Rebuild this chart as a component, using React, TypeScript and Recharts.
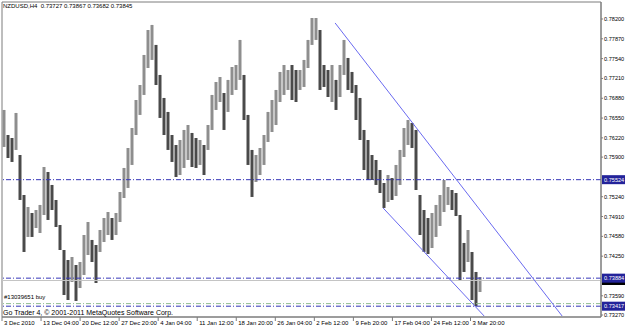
import React from "react";
import {
  Bar,
  Cell,
  ComposedChart,
  ReferenceArea,
  ReferenceLine,
  XAxis,
  YAxis,
} from "recharts";

const FONT = '"Liberation Sans", Arial, sans-serif';

const TITLE = "NZDUSD,H4  0.73727 0.73867 0.73682 0.73845";
const COPYRIGHT = "Go Trader 4, \u00a9 2001-2011 MetaQuotes Software Corp.";
const ORDER_LABEL = "#13039651 buy";

const HIGHS = [
  0.76685, 0.76268, 0.76218, 0.76635, 0.75935, 0.75269, 0.75069, 0.74969, 0.75019, 0.75103,
  0.75735, 0.75652, 0.75436, 0.75186, 0.74769, 0.74353, 0.74186, 0.74236, 0.74103, 0.74153,
  0.74603, 0.74819, 0.7452, 0.74436, 0.74686, 0.74886, 0.74986, 0.74886, 0.74969, 0.75319,
  0.75719, 0.76052, 0.76385, 0.76851, 0.77101, 0.77601, 0.78017, 0.78101, 0.77768, 0.77268,
  0.76885, 0.76652, 0.76268, 0.76102, 0.76185, 0.76352, 0.76435, 0.76302, 0.76218, 0.76185,
  0.76102, 0.76435, 0.76935, 0.77151, 0.77234, 0.76968, 0.77185, 0.77401, 0.77434, 0.77851,
  0.77268, 0.76602, 0.76019, 0.75935, 0.76052, 0.76268, 0.76652, 0.76851, 0.77018, 0.77318,
  0.77434, 0.77351, 0.77434, 0.77351, 0.77351, 0.77518, 0.77851, 0.78217, 0.78217, 0.78017,
  0.77434, 0.77351, 0.77434, 0.77185, 0.77434, 0.77851, 0.77551, 0.77318, 0.77101, 0.76885,
  0.76352, 0.76185, 0.75935, 0.75852, 0.75685, 0.75469, 0.75602, 0.75552, 0.75769, 0.76019,
  0.76385, 0.76518, 0.76468, 0.76352, 0.75269, 0.75019, 0.74886, 0.74969, 0.75103, 0.75269,
  0.75519, 0.75402, 0.75352, 0.75302, 0.74936, 0.7447, 0.74686, 0.7432, 0.73987, 0.73903,
];

const LOWS = [
  0.76069, 0.75885, 0.75819, 0.76019, 0.75186, 0.7432, 0.7457, 0.7457, 0.74719, 0.74636,
  0.74936, 0.74853, 0.75019, 0.74736, 0.74353, 0.73603, 0.7352, 0.7382, 0.73504, 0.7372,
  0.73937, 0.7427, 0.74153, 0.73803, 0.7432, 0.74486, 0.74603, 0.7452, 0.74603, 0.74819,
  0.75219, 0.75386, 0.75769, 0.76268, 0.76602, 0.76935, 0.77384, 0.77518, 0.77101, 0.76552,
  0.76268, 0.76019, 0.75819, 0.75569, 0.75602, 0.75719, 0.75852, 0.75735, 0.75719, 0.75769,
  0.75602, 0.76019, 0.76352, 0.76685, 0.76818, 0.76352, 0.76652, 0.76935, 0.77018, 0.77185,
  0.76518, 0.75769, 0.75236, 0.75486, 0.75602, 0.75769, 0.76152, 0.76318, 0.76435, 0.76818,
  0.76935, 0.77018, 0.76851, 0.76818, 0.77018, 0.77068, 0.77384, 0.77768, 0.77851, 0.77018,
  0.77068, 0.76901, 0.76818, 0.76685, 0.76901, 0.77268, 0.77018, 0.76968, 0.76518, 0.76185,
  0.75685, 0.75519, 0.75519, 0.75436, 0.75302, 0.75053, 0.75152, 0.75186, 0.75252, 0.75436,
  0.75902, 0.76102, 0.76052, 0.75352, 0.74603, 0.7432, 0.74286, 0.74386, 0.7457, 0.74753,
  0.74986, 0.75103, 0.75019, 0.74919, 0.73853, 0.73987, 0.74153, 0.7352, 0.7342, 0.73653,
];

const DATE_LABELS = [
  "3 Dec 2010", "13 Dec 04:00", "20 Dec 12:00", "27 Dec 20:00", "4 Jan 04:00",
  "11 Jan 12:00", "18 Jan 20:00", "26 Jan 04:00", "2 Feb 12:00", "9 Feb 20:00",
  "17 Feb 04:00", "24 Feb 12:00", "3 Mar 20:00",
];
// bar-group index where each date label sits
const DATE_TICKS = [
  -0.625, 9.14, 18.9, 28.66, 38.42, 48.18, 57.94, 67.7, 77.46, 87.22, 96.98, 106.74, 116.5,
];

const PRICE_TICKS = [
  0.782, 0.7787, 0.7754, 0.7721, 0.7688, 0.7655, 0.7622, 0.759, 0.7524, 0.7491, 0.7458,
  0.7425, 0.7359, 0.7327,
];

const LEVELS = [0.75524, 0.73884, 0.73417];
const BUY_PRICE = 0.7346;
const BID = 0.73845;

const UPPER_TREND = [
  { x: 82.65, y: 0.78134 },
  { x: 139.4, y: 0.73254 },
];
const LOWER_TREND = [
  { x: 94.65, y: 0.75053 },
  { x: 119.9, y: 0.73254 },
];

const X_DOMAIN: [number, number] = [-0.625, 149.125];
const Y_DOMAIN: [number, number] = [0.73237, 0.78483];

const LEVEL_COLOR = "#3535b8";
const TREND_COLOR = "#6a6af0";
const TAG_COLOR = "#23239a";
const BAR_UP = "#8e8e8e";
const BAR_DOWN = "#4a4a4a";
const FRAME = "#7c7c7c";

const data = HIGHS.map((h, i) => ({ i, range: [LOWS[i], h] }));

function DateTick(props: any) {
  const { x, y, payload } = props;
  const k = DATE_TICKS.indexOf(payload.value);
  return (
    <text x={x + 2} y={y} dy="0.71em" fontSize={6} fontFamily={FONT} fill="#000" textAnchor="start">
      {DATE_LABELS[k]}
    </text>
  );
}

function PriceTag(props: any) {
  const { viewBox, text, fill } = props;
  if (!viewBox) return null;
  const x = viewBox.x + viewBox.width + 1;
  const y = viewBox.y;
  return (
    <g>
      <rect x={x} y={y - 4.5} width={24} height={9} fill={fill} />
      {text ? (
        <text x={x + 2} y={y} dy="0.355em" fontSize={5.6} fontFamily={FONT} fill="#fff">
          {text}
        </text>
      ) : null}
    </g>
  );
}

function OrderTag(props: any) {
  const { viewBox } = props;
  if (!viewBox) return null;
  return (
    <text x={viewBox.x + 2} y={viewBox.y - 5} fontSize={6} fontFamily={FONT} fill="#000">
      {ORDER_LABEL}
    </text>
  );
}

export default function App() {
  return (
    <div
      style={{
        position: "absolute",
        left: 0,
        top: 0,
        width: 625,
        height: 327,
        background: "#fff",
        overflow: "hidden",
      }}
    >
      <ComposedChart
        width={625}
        height={327}
        data={data}
        margin={{ top: 2, right: 0, bottom: 0, left: 2 }}
      >
        <XAxis
          type="number"
          dataKey="i"
          domain={X_DOMAIN}
          ticks={DATE_TICKS}
          interval={0}
          allowDataOverflow
          height={10}
          tickSize={4}
          tickMargin={0}
          tick={<DateTick />}
          tickLine={{ stroke: FRAME }}
          axisLine={{ stroke: FRAME }}
        />
        <YAxis
          orientation="right"
          type="number"
          domain={Y_DOMAIN}
          ticks={PRICE_TICKS}
          interval={0}
          allowDataOverflow
          width={24}
          tickSize={2}
          tickMargin={1}
          tickFormatter={(v: number) => v.toFixed(5)}
          tick={{ fontSize: 5.6, fill: "#000", fontFamily: FONT }}
          tickLine={{ stroke: FRAME }}
          axisLine={{ stroke: FRAME }}
        />
        <ReferenceArea
          x1={X_DOMAIN[0]}
          x2={X_DOMAIN[1]}
          y1={Y_DOMAIN[0]}
          y2={Y_DOMAIN[1]}
          fill="none"
          stroke={FRAME}
        />
        <Bar dataKey="range" barSize={3} isAnimationActive={false}>
          {data.map((d, i) => {
            const mid = (d.range[0] + d.range[1]) / 2;
            const prev = i > 0 ? (data[i - 1].range[0] + data[i - 1].range[1]) / 2 : mid;
            return <Cell key={i} fill={mid >= prev ? BAR_UP : BAR_DOWN} />;
          })}
        </Bar>
        <ReferenceLine y={BID} stroke="#c4c4c4" strokeWidth={1} label={<PriceTag fill="#000" />} />
        <ReferenceLine
          y={BUY_PRICE}
          stroke="#8fbc8f"
          strokeDasharray="5 2 1 2"
          label={<OrderTag />}
        />
        {LEVELS.map((lv) => (
          <ReferenceLine
            key={lv}
            y={lv}
            stroke={LEVEL_COLOR}
            strokeDasharray="5 2 1 2"
            label={<PriceTag text={lv.toFixed(5)} fill={TAG_COLOR} />}
          />
        ))}
        <ReferenceLine segment={UPPER_TREND} stroke={TREND_COLOR} ifOverflow="hidden" />
        <ReferenceLine segment={LOWER_TREND} stroke={TREND_COLOR} ifOverflow="hidden" />
      </ComposedChart>
      <div
        style={{
          position: "absolute",
          left: 3,
          top: 3,
          fontSize: 6,
          lineHeight: "7px",
          fontFamily: FONT,
          whiteSpace: "pre",
          color: "#000",
        }}
      >
        {TITLE}
      </div>
      <div
        style={{
          position: "absolute",
          left: 3,
          top: 309,
          fontSize: 7,
          lineHeight: "8px",
          fontFamily: FONT,
          whiteSpace: "pre",
          color: "#000",
        }}
      >
        {COPYRIGHT}
      </div>
    </div>
  );
}
